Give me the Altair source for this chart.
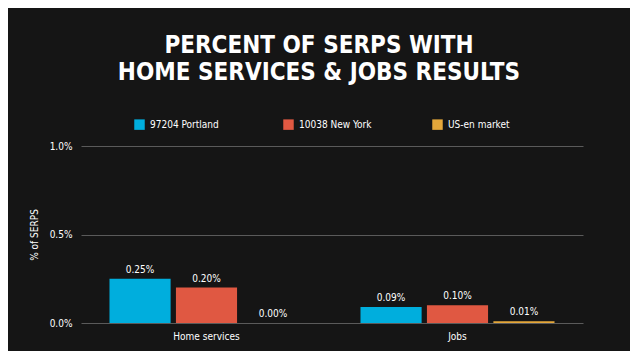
import altair as alt
import pandas as pd

categories = ["Home services", "Jobs"]
series = ["97204 Portland", "10038 New York", "US-en market"]
colors = ["#00AEDD", "#E05842", "#E4A73A"]
values = {
    "97204 Portland": [0.25, 0.09],
    "10038 New York": [0.20, 0.10],
    "US-en market": [0.00, 0.01],
}

rows = []
for s in series:
    for c, v in zip(categories, values[s]):
        rows.append({"category": c, "series": s, "value": v, "label": f"{v:.2f}%"})
df = pd.DataFrame(rows)

FONT = "DejaVu Sans Condensed"

x = alt.X("category:N", sort=categories, title=None,
          scale=alt.Scale(paddingInner=0.227, paddingOuter=0.1135),
          axis=alt.Axis(labelAngle=0, domain=False, ticks=False, labelPadding=8,
                        labelColor="#ffffff", labelFontSize=10, labelFont=FONT))
xo = alt.XOffset("series:N", sort=series,
                 scale=alt.Scale(paddingInner=0.08, paddingOuter=0))
y = alt.Y("value:Q", title="% of SERPS",
          scale=alt.Scale(domain=[0, 1]),
          axis=alt.Axis(values=[0, 0.5, 1], labelExpr="format(datum.value, '.1f') + '%'",
                        domain=False, ticks=False, labelPadding=9,
                        labelColor="#ffffff", labelFontSize=10, labelFont=FONT,
                        titleColor="#ffffff", titleFontSize=10, titleFont=FONT,
                        titleFontWeight="normal", titlePadding=10,
                        gridColor="#5a5a5a", gridWidth=1))
color = alt.Color("series:N", sort=series,
                  scale=alt.Scale(domain=series, range=colors),
                  legend=alt.Legend(title=None, orient="none", direction="horizontal",
                                    legendX=53, legendY=-27, symbolType="square",
                                    symbolSize=110, symbolStrokeWidth=0,
                                    labelColor="#ffffff", labelFontSize=10, labelFont=FONT,
                                    gridAlign="all", columnPadding=60, labelOffset=5))

bars = alt.Chart(df).mark_bar(stroke=None).encode(x=x, xOffset=xo, y=y, color=color)
labels = alt.Chart(df).mark_text(baseline="bottom", dy=-4, color="#ffffff",
                                 fontSize=10, font=FONT).encode(
    x=x, xOffset=xo, y=y, text="label:N")

chart = (bars + labels).properties(
    width=502, height=177,
    autosize=alt.AutoSizeParams(type="none"),
    padding={"left": 73, "top": 138, "right": 47, "bottom": 28},
    background="#151515",
    title=alt.TitleParams(
        ["PERCENT OF SERPS WITH", "HOME SERVICES & JOBS RESULTS"],
        color="#ffffff", fontSize=24, font=FONT, fontWeight="bold",
        anchor="middle", dx=-13, offset=34, lineHeight=27),
).configure_view(stroke=None)

chart.save("out.html", embed_options={"renderer": "svg", "actions": False})
